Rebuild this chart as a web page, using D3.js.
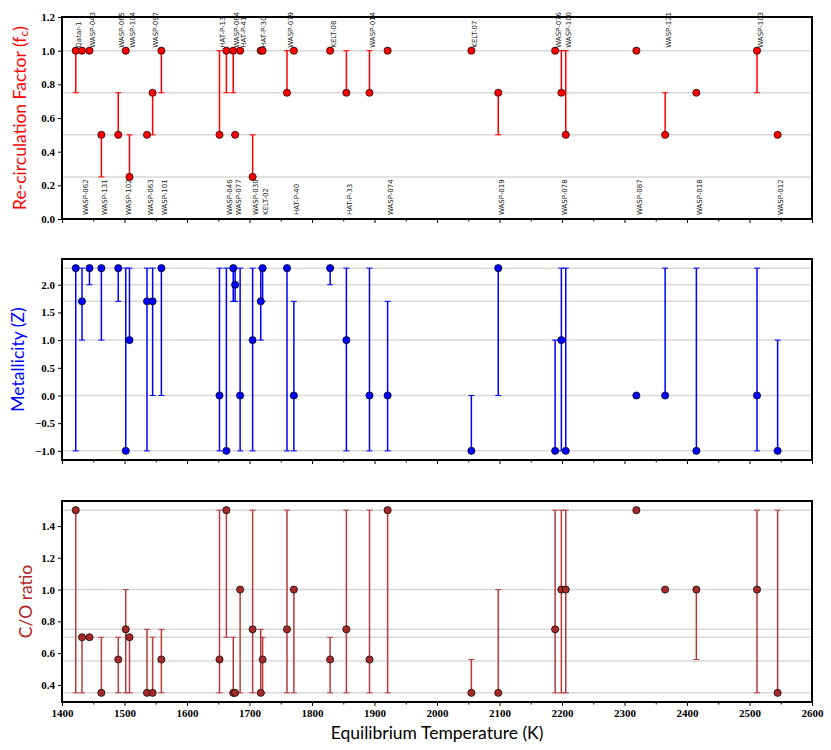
<!DOCTYPE html>
<html>
<head>
<meta charset="utf-8">
<script src="https://cdn.jsdelivr.net/npm/d3@7"></script>
<style>
body { margin: 0; background: #fff; }
</style>
</head>
<body>
<div id="chart"></div>
<script>
// planets, sorted by equilibrium temperature
const planets = ['Qatar-1', 'WASP-062', 'WASP-043', 'WASP-131', 'WASP-065', 'WASP-102',
	'WASP-104', 'WASP-063', 'WASP-097', 'WASP-101', 'HAT-P-13', 'WASP-046', 'WASP-064',
	'WASP-077', 'HAT-P-41', 'WASP-030', 'HAT-P-30', 'KELT-02', 'WASP-079', 'HAT-P-40',
	'KELT-08', 'HAT-P-33', 'WASP-014', 'WASP-074', 'KELT-07', 'WASP-019', 'WASP-076',
	'WASP-078', 'WASP-100', 'WASP-087', 'WASP-121', 'WASP-018', 'WASP-103', 'WASP-012'];
const teq = [1422, 1432, 1444, 1463, 1490, 1502, 1508, 1536, 1545, 1559, 1652, 1663, 1674,
	1677, 1685, 1705, 1718, 1721, 1760, 1771, 1829, 1855, 1892, 1921, 2055, 2098, 2189,
	2199, 2206, 2319, 2365, 2415, 2512, 2545];

// re-circulation factor with its lower / upper bounds
const fc   = [1, 1, 1, 0.5, 0.5, 1, 0.25, 0.5, 0.75, 1, 0.5, 1, 1, 0.5, 1, 0.25, 1, 1, 0.75, 1,
	1, 0.75, 0.75, 1, 1, 0.75, 1, 0.75, 0.5, 1, 0.5, 0.75, 1, 0.5];
const fcLo = [0.75, 1, 1, 0.25, 0.5, 1, 0.25, 0.5, 0.5, 0.75, 0.5, 0.75, 0.75, 0.5, 1, 0.25,
	1, 1, 0.75, 1, 1, 0.75, 0.75, 1, 1, 0.5, 1, 0.75, 0.5, 1, 0.5, 0.75, 0.75, 0.5];
const fcHi = [1, 1, 1, 0.5, 0.75, 1, 0.5, 0.5, 0.75, 1, 1, 1, 1, 0.5, 1, 0.5, 1, 1, 1, 1,
	1, 1, 1, 1, 1, 0.75, 1, 1, 1, 1, 0.75, 0.75, 1, 0.5];

// metallicity
const metal   = [2.3, 1.7, 2.3, 2.3, 2.3, -1, 1, 1.7, 1.7, 2.3, 0, -1, 2.3, 2.0, 0, 1, 1.7,
	2.3, 2.3, 0, 2.3, 1, 0, 0, -1, 2.3, -1, 1, -1, 0, 0, -1, 0, -1];
const metalLo = [-1, 1, 2.0, 1, 1.7, -1, 1, -1, 0, 0, -1, -1, 1.7, 1.7, -1, -1, 1, 1.7, -1,
	-1, 2.0, -1, -1, -1, -1, 0, -1, -1, -1, 0, 0, -1, -1, -1];
const metalHi = [2.3, 2.3, 2.3, 2.3, 2.3, 2.3, 2.3, 2.3, 2.3, 2.3, 2.3, 2.3, 2.3, 2.3, 2.3,
	2.3, 2.3, 2.3, 2.3, 1.7, 2.3, 2.3, 2.3, 1.7, 0, 2.3, 1, 2.3, 2.3, 0, 2.3, 2.3, 2.3, 1];

// C/O ratio
const co   = [1.5, 0.7, 0.7, 0.35, 0.56, 0.75, 0.7, 0.35, 0.35, 0.56, 0.56, 1.5, 0.35, 0.35,
	1, 0.75, 0.35, 0.56, 0.75, 1, 0.56, 0.75, 0.56, 1.5, 0.35, 0.35, 0.75, 1, 1, 1.5, 1, 1,
	1, 0.35];
const coLo = [0.35, 0.35, 0.7, 0.35, 0.35, 0.35, 0.35, 0.35, 0.35, 0.35, 0.35, 0.7, 0.35,
	0.35, 0.35, 0.35, 0.35, 0.35, 0.35, 0.35, 0.35, 0.35, 0.35, 0.35, 0.35, 0.35, 0.35,
	0.35, 0.35, 1.5, 1, 0.56, 0.35, 0.35];
const coHi = [1.5, 0.7, 0.7, 0.7, 0.7, 1, 0.7, 0.75, 0.7, 0.75, 1.5, 1.5, 0.7, 0.35, 1, 1.5,
	0.75, 0.7, 1.5, 1, 0.7, 1.5, 1.5, 1.5, 0.56, 1, 1.5, 1.5, 1.5, 1.5, 1, 1, 1.5, 1.5];

// model grid values (horizontal guide lines)
const fcGrid = [0.25, 0.5, 0.75, 1.0];
const metalGrid = [-1, 0, 1, 1.7, 2.0, 2.3];
const coGrid = [0.35, 0.55, 0.7, 0.75, 1.0, 1.5];

const fcTicks = [0, 0.2, 0.4, 0.6, 0.8, 1.0, 1.2];
const metalTicks = [-1, -0.5, 0, 0.5, 1, 1.5, 2];
const coTicks = [0.4, 0.6, 0.8, 1.0, 1.2, 1.4];
const tempTicks = [1400, 1500, 1600, 1700, 1800, 1900, 2000, 2100, 2200, 2300, 2400, 2500, 2600];
const tempMinorTicks = d3.range(1450, 2600, 100);

const W = 831, H = 750;
const left = 62, right = 812;

const svg = d3.select('#chart').append('svg')
	.attr('width', W)
	.attr('height', H)
	.style('font-family', 'Lato, sans-serif');

const x = d3.scaleLinear().domain([1400, 2600]).range([left, right]);

const panels = [
	{vals: fc, lo: fcLo, hi: fcHi, grid: fcGrid, ticks: fcTicks, domain: [0, 1.2],
	 top: 17, bottom: 219, fill: '#ff0000', bar: '#ff0000', text: '#ff0000', titleX: 19,
	 title: 'Re-circulation Factor (f', sub: 'c', names: true},
	{vals: metal, lo: metalLo, hi: metalHi, grid: metalGrid, ticks: metalTicks,
	 domain: [-1.165, 2.465], top: 259, bottom: 460, fill: '#0000ff', bar: '#0000ff',
	 text: '#0000ff', titleX: 17, title: 'Metallicity (Z)'},
	{vals: co, lo: coLo, hi: coHi, grid: coGrid, ticks: coTicks, domain: [0.2925, 1.5575],
	 top: 501, bottom: 702, fill: '#a52a2a', bar: '#b83a3a', text: '#b22222', titleX: 25,
	 title: 'C/O ratio', xlabels: true}
];

const tickFont = '"Liberation Serif", serif';

panels.forEach(function(p) {
	const y = d3.scaleLinear().domain(p.domain).range([p.bottom, p.top]);
	const g = svg.append('g');

	// grid lines at the model values
	g.selectAll('line.grid')
		.data(p.grid)
		.enter()
		.append('line')
		.attr('x1', left).attr('x2', right)
		.attr('y1', d => y(d)).attr('y2', d => y(d))
		.attr('stroke', '#d9d9d9')
		.attr('stroke-width', 1.5);

	// planet names: alternate top / bottom
	if (p.names) {
		g.selectAll('text.name')
			.data(planets)
			.enter()
			.append('text')
			.attr('transform', function(d, i) {
				const yy = (i % 2 == 0) ? y(1.0) - 3 : y(0) - 4;
				return 'translate(' + (x(teq[i]) + 5.5) + ',' + yy + ') rotate(-90)';
			})
			.style('font-family', '"DejaVu Sans", sans-serif')
			.style('font-size', '7px')
			.attr('fill', '#222')
			.text(d => d);
	}

	// error bars
	const idx = d3.range(planets.length).filter(i => p.lo[i] != p.hi[i]);
	const eb = g.selectAll('g.eb')
		.data(idx)
		.enter()
		.append('g')
		.attr('stroke', p.bar)
		.attr('stroke-width', 1.5);
	eb.append('line')
		.attr('x1', i => x(teq[i])).attr('x2', i => x(teq[i]))
		.attr('y1', i => y(p.lo[i])).attr('y2', i => y(p.hi[i]));
	[p.lo, p.hi].forEach(function(arr) {
		eb.append('line')
			.attr('x1', i => x(teq[i]) - 3).attr('x2', i => x(teq[i]) + 3)
			.attr('y1', i => y(arr[i])).attr('y2', i => y(arr[i]))
			.attr('stroke-width', 1);
	});

	// markers
	g.selectAll('circle')
		.data(p.vals)
		.enter()
		.append('circle')
		.attr('cx', (d, i) => x(teq[i]))
		.attr('cy', d => y(d))
		.attr('r', 3.6)
		.attr('fill', p.fill)
		.attr('stroke', '#000')
		.attr('stroke-width', 0.7);

	// y axis
	const ya = svg.append('g')
		.attr('transform', 'translate(' + left + ',0)')
		.call(d3.axisLeft(y).tickValues(p.ticks).tickSize(4).tickPadding(3)
			.tickFormat(d3.format('.1f')));
	ya.select('.domain').remove();
	ya.selectAll('text')
		.style('font-family', tickFont)
		.style('font-weight', 'bold')
		.style('font-size', '11px')
		.attr('fill', '#000');

	// x axis, with minor ticks
	const xa = svg.append('g')
		.attr('transform', 'translate(0,' + p.bottom + ')')
		.call(d3.axisBottom(x).tickValues(tempTicks).tickSize(4).tickPadding(3)
			.tickFormat(p.xlabels ? d3.format('d') : ''));
	xa.select('.domain').remove();
	xa.selectAll('text')
		.style('font-family', tickFont)
		.style('font-weight', 'bold')
		.style('font-size', '11px')
		.attr('fill', '#000');
	const xm = svg.append('g')
		.attr('transform', 'translate(0,' + p.bottom + ')')
		.call(d3.axisBottom(x).tickValues(tempMinorTicks).tickSize(2.5).tickFormat(''));
	xm.select('.domain').remove();

	// frame
	svg.append('rect')
		.attr('x', left).attr('y', p.top)
		.attr('width', right - left).attr('height', p.bottom - p.top)
		.attr('fill', 'none')
		.attr('stroke', '#000')
		.attr('stroke-width', 2);

	// y title
	const t = svg.append('text')
		.attr('transform', 'translate(' + p.titleX + ',' + ((p.top + p.bottom) / 2) + ') rotate(-90)')
		.attr('text-anchor', 'middle')
		.attr('dominant-baseline', 'central')
		.style('font-size', '17.5px')
		.attr('fill', p.text)
		.text(p.title);
	if (p.sub) {
		t.append('tspan').attr('font-size', '12px').attr('dy', '4').text(p.sub);
		t.append('tspan').attr('dy', '-4').text(')');
	}
});

svg.append('text')
	.attr('x', (left + right) / 2)
	.attr('y', 739)
	.attr('text-anchor', 'middle')
	.style('font-size', '17.5px')
	.attr('fill', '#000')
	.text('Equilibrium Temperature (K)');
</script>
</body>
</html>
